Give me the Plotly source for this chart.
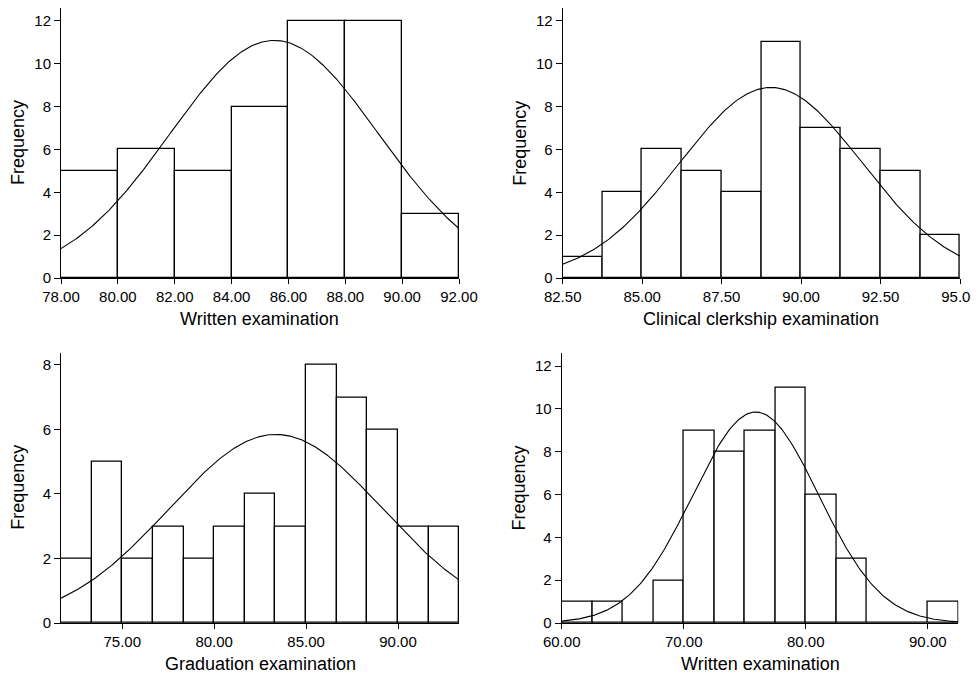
import numpy as np
import plotly.graph_objects as go

# ---------------- data ----------------
# Panel 1: Written examination (top-left)
p1_start, p1_width = 78.0, 2.0
p1_counts = [5, 6, 5, 8, 12, 12, 3]
p1_mean, p1_sd = 85.5, 3.67
p1_ticks = [78, 80, 82, 84, 86, 88, 90, 92]
p1_xrange = [78.0, 92.0]

# Panel 2: Clinical clerkship examination (top-right)
p2_start, p2_width = 82.5, 1.25
p2_counts = [1, 4, 6, 5, 4, 11, 7, 6, 5, 2]
p2_mean, p2_sd = 89.05, 2.86
p2_ticks = [82.5, 85, 87.5, 90, 92.5, 95]
p2_xrange = [82.5, 95.0]

# Panel 3: Graduation examination (bottom-left)
p3_start, p3_width = 71.6667, 5.0 / 3.0
p3_counts = [2, 5, 2, 3, 2, 3, 4, 3, 8, 7, 6, 3, 3]
p3_mean, p3_sd = 83.35, 5.8
p3_ticks = [75, 80, 85, 90]
p3_xrange = [71.6667, 93.3333]

# Panel 4: Written examination (bottom-right)
p4_start, p4_width = 60.0, 2.5
p4_counts = [1, 1, 0, 2, 9, 8, 9, 11, 6, 3, 0, 0, 1]
p4_mean, p4_sd = 75.9, 5.16
p4_ticks = [60, 70, 80, 90]
p4_xrange = [60.0, 92.5]

# page offset of the figure (default body margin)
OFF = 8
W, H = 979 - OFF, 673 - OFF

panels = [
    dict(start=p1_start, width=p1_width, counts=p1_counts, mean=p1_mean, sd=p1_sd,
         ticks=p1_ticks, xrange=p1_xrange, yticks=[0, 2, 4, 6, 8, 10, 12], ymax=12.6,
         xlabel="Written examination",
         px=(61, 459), py=(8, 278)),
    dict(start=p2_start, width=p2_width, counts=p2_counts, mean=p2_mean, sd=p2_sd,
         ticks=p2_ticks, xrange=p2_xrange, yticks=[0, 2, 4, 6, 8, 10, 12], ymax=12.6,
         xlabel="Clinical clerkship examination",
         px=(562.7, 960), py=(8, 278)),
    dict(start=p3_start, width=p3_width, counts=p3_counts, mean=p3_mean, sd=p3_sd,
         ticks=p3_ticks, xrange=p3_xrange, yticks=[0, 2, 4, 6, 8], ymax=8.38,
         xlabel="Graduation examination",
         px=(61, 459.3), py=(352.7, 623)),
    dict(start=p4_start, width=p4_width, counts=p4_counts, mean=p4_mean, sd=p4_sd,
         ticks=p4_ticks, xrange=p4_xrange, yticks=[0, 2, 4, 6, 8, 10, 12], ymax=12.63,
         xlabel="Written examination",
         px=(561.7, 958.3), py=(352.7, 623)),
]

FONT = "Liberation Sans, Arial, sans-serif"

fig = go.Figure()
layout = dict(
    width=W, height=H, margin=dict(l=0, r=0, t=0, b=0, autoexpand=False),
    paper_bgcolor="white", plot_bgcolor="white", showlegend=False,
    font=dict(family=FONT, size=15, color="black"),
    bargap=0,
)
annotations = []

for i, p in enumerate(panels):
    n = i + 1
    xa = "x" if n == 1 else f"x{n}"
    ya = "y" if n == 1 else f"y{n}"
    counts = np.array(p["counts"], dtype=float)
    centers = p["start"] + p["width"] * (np.arange(len(counts)) + 0.5)
    fig.add_trace(go.Bar(
        x=centers, y=counts, width=p["width"],
        marker=dict(color="white", line=dict(color="black", width=1.3)),
        xaxis=xa, yaxis=ya, hoverinfo="x+y",
    ))
    total = counts.sum()
    xs = np.linspace(p["xrange"][0], p["xrange"][1], 300)
    ys = total * p["width"] / (p["sd"] * np.sqrt(2 * np.pi)) * np.exp(-0.5 * ((xs - p["mean"]) / p["sd"]) ** 2)
    fig.add_trace(go.Scatter(
        x=xs, y=ys, mode="lines", line=dict(color="black", width=1.1),
        xaxis=xa, yaxis=ya, hoverinfo="skip", cliponaxis=False,
    ))

    lx, rx = p["px"][0] - OFF, p["px"][1] - OFF
    ty, by = max(p["py"][0] - OFF, 0), p["py"][1] - OFF
    x0, x1 = lx / W, rx / W
    y0, y1 = 1 - by / H, 1 - ty / H
    xkey = "xaxis" if n == 1 else f"xaxis{n}"
    ykey = "yaxis" if n == 1 else f"yaxis{n}"
    layout[xkey] = dict(
        domain=[x0, x1], anchor=ya, range=p["xrange"], automargin=False,
        tickmode="array", tickvals=p["ticks"], tickformat=".2f",
        ticks="outside", ticklen=5, tickwidth=1, tickcolor="black",
        showline=True, linecolor="black", linewidth=1,
        showgrid=False, zeroline=False,
        tickfont=dict(family=FONT, size=15, color="black"),
    )
    layout[ykey] = dict(
        domain=[y0, y1], anchor=xa, range=[0, p["ymax"]], automargin=False,
        tickmode="array", tickvals=p["yticks"],
        ticks="outside", ticklen=6, tickwidth=1, tickcolor="black",
        showline=True, linecolor="black", linewidth=1,
        showgrid=False, zeroline=False,
        tickfont=dict(family=FONT, size=15, color="black"),
    )
    # axis titles as annotations
    annotations.append(dict(
        text=p["xlabel"], xref="paper", yref="paper",
        x=(x0 + x1) / 2, y=1 - (by + 41) / H,
        xanchor="center", yanchor="middle", showarrow=False,
        font=dict(family=FONT, size=18, color="black"),
    ))
    annotations.append(dict(
        text="Frequency", xref="paper", yref="paper",
        x=(lx - 43) / W, y=(y0 + y1) / 2, textangle=-90,
        xanchor="center", yanchor="middle", showarrow=False,
        font=dict(family=FONT, size=18, color="black"),
    ))

layout["annotations"] = annotations
fig.update_layout(**layout)
fig.write_html("out.html")
